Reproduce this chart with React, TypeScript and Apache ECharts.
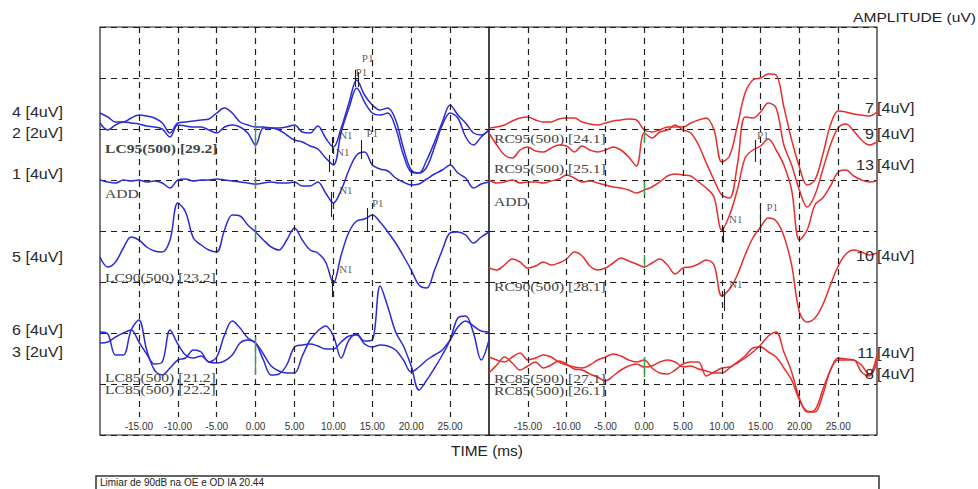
import React, { useEffect, useRef } from "react";
import * as echarts from "echarts";

// Time axis (ms), shared by every trace
const TIME_MS = [-20,-19,-18,-17,-16,-15,-14,-13,-12,-11,-10,-9,-8,-7,-6,-5,-4,-3,-2,-1,0,1,2,3,4,5,6,7,8,9,10,11,12,13,14,15,16,17,18,19,20,21,22,23,24,25,26,27,28,29,30];
const X_TICKS = [-15, -10, -5, 0, 5, 10, 15, 20, 25];

// Trace values: vertical position read downward from the top of the panel,
// in display units (51 units = one grid division of the stacked display).
// Left ear (blue)
const LC95_4 = [86,90,95,95,91,88,89,91,96,106, 96,95,94,93,92,86,81,86,95,98, 100,100,101,101,100,98,105,106,99,111, 120,101,76,53,68,78,83,81,93,121, 143,146,133,115,95,78,88,96,106,108,103];
const LC95_2 = [96,103,98,95,96,97,99,100,102,110, 98,99,100,100,103,106,100,98,100,106, 118,101,101,103,108,113,115,119,122,131, 138,105,81,61,75,86,88,86,101,128, 145,146,140,120,98,86,91,110,118,110,103];
const L_ADD_1 = [153,155,156,153,154,153,155,154,156,161, 153,152,154,153,153,152,153,154,155,156, 157,156,155,156,156,155,159,159,155,166, 176,163,143,128,125,138,142,144,151,155, 158,157,152,147,143,138,146,151,161,157,155];
const LC90_5 = [230,240,235,221,210,213,220,224,225,213, 176,185,211,218,223,225,203,188,189,198, 205,213,220,223,213,201,213,223,226,235, 256,228,205,194,192,188,195,205,216,229, 243,258,261,243,223,206,205,208,216,210,205];
const LC85_6 = [316,315,310,306,303,315,327,337,335,303, 317,328,331,329,335,336,334,328,316,313, 316,327,339,344,346,346,329,313,304,299, 309,331,313,307,314,313,259,280,305,319, 339,363,353,341,328,313,291,289,306,333,313];
const LC85_3 = [305,307,328,328,303,293,323,343,348,341, 333,331,323,325,335,330,308,294,301,311, 316,333,348,347,338,320,318,317,319,322, 322,315,309,308,317,320,318,319,323,333, 345,340,333,328,323,313,300,294,299,304,305];
// Right ear (red)
const RC95_7 = [101,100,98,94,91,90,93,95,95,92, 91,91,95,97,98,96,94,93,92,93, 103,105,103,100,100,100,96,93,91,103, 135,129,99,66,53,51,47,48,80,113, 140,158,153,128,98,84,85,87,88,89,85];
const RC95_9 = [106,118,128,131,123,120,124,125,121,118, 119,125,119,123,125,123,120,123,130,139, 106,111,105,103,98,103,106,118,136,153, 168,171,138,90,91,85,76,81,118,138, 163,180,168,143,118,101,97,104,113,118,115];
const R_ADD_13 = [153,156,155,153,156,155,155,156,154,152, 148,151,155,154,156,158,160,161,163,166, 163,160,155,149,147,148,149,155,161,170, 203,188,163,131,123,119,112,123,138,163, 213,203,178,171,159,145,143,149,153,155,154];
const RC90_10 = [241,243,238,232,235,241,239,235,238,236, 232,225,229,239,243,241,236,231,234,237, 240,236,232,238,247,241,240,237,233,238, 269,262,248,228,211,200,191,194,209,238, 285,295,291,278,258,239,227,223,225,228,226];
const RC85_11 = [330,333,335,330,326,333,331,328,330,335, 338,340,341,338,333,330,327,329,333,335, 333,341,346,347,343,337,335,335,349,345, 341,340,336,331,325,318,309,305,325,345, 371,385,383,363,343,331,332,333,338,348,328];
const RC85_8 = [346,338,330,336,343,339,335,341,338,334, 337,342,343,347,350,354,349,343,339,337, 340,339,335,333,335,340,339,342,344,346, 346,341,335,329,321,320,325,330,341,353, 373,384,385,368,343,333,333,333,345,349,335];

// Stimulus markers at 0 ms: [from, to] vertical positions
const LEFT_STIM = [[95, 122], [150, 162], [198, 213], [310, 348]];
const RIGHT_STIM = [[105, 116], [155, 168], [228, 241], [330, 350]];

// Peak markers: [time, from, to]
const LEFT_PEAK_TICKS = [[12.8, 43, 60], [13.2, 45, 60], [9.9, 110, 126], [9.5, 128, 145], [13.6, 113, 132], [9.7, 165, 190], [14.4, 181, 205], [9.9, 248, 270]];
const RIGHT_PEAK_TICKS = [[14.3, 113, 135], [10.2, 200, 216], [14.9, 178, 206], [10.3, 262, 284]];
// Peak labels: [text, time, position]
const LEFT_PEAK_LABELS: [string, number, number][] = [["P1", 14.4, 31], ["P1", 13.6, 45], ["N1", 11.6, 108], ["N1", 11.2, 125], ["P1", 15.0, 106], ["N1", 11.6, 163], ["P1", 15.7, 176], ["N1", 11.6, 242]];
const RIGHT_PEAK_LABELS: [string, number, number][] = [["P1", 15.3, 108], ["N1", 11.8, 192], ["P1", 16.5, 180], ["N1", 11.8, 257]];

const LEFT_TRACES = [LC95_4, LC95_2, L_ADD_1, LC90_5, LC85_6, LC85_3];
const RIGHT_TRACES = [RC95_7, RC95_9, R_ADD_13, RC90_10, RC85_11, RC85_8];

const LEFT_CHANNELS: [string, number][] = [["4 [4uV]", 112], ["2 [2uV]", 133], ["1 [4uV]", 174], ["5 [4uV]", 257], ["6 [4uV]", 330], ["3 [2uV]", 352]];
const RIGHT_CHANNELS: [string, number][] = [["7", 108], ["9", 134], ["13", 165], ["10", 256], ["11", 353], ["8", 374]];
const LEFT_NAMES: [string, number, boolean][] = [["LC95(500) [29.2]", 148, true], ["ADD", 193, false], ["LC90(500) [23.2]", 277, false], ["LC85(500) [21.2]", 377, false], ["LC85(500) [22.2]", 389, false]];
const RIGHT_NAMES: [string, number, boolean][] = [["RC95(500) [24.1]", 138, false], ["RC95(500) [25.1]", 168, false], ["ADD", 201, false], ["RC90(500) [28.1]", 286, false], ["RC85(500) [27.1]", 378, false], ["RC85(500) [26.1]", 390, false]];

const BLUE = "#2b2bd9";
const RED = "#e62e2e";
const DASH = { type: [6, 5] as any, color: "#1e1e1e", width: 1.2 };

function buildOption() {
  const grids = [
    { left: 100, top: 27, width: 389, height: 408 },
    { left: 489, top: 27, width: 388, height: 408 },
  ].map((g) => ({ ...g, show: true, borderColor: "#222", borderWidth: 1.2, backgroundColor: "transparent" }));

  const xAxes = [0, 1].map((i) => ({
    type: "value", gridIndex: i, min: -20, max: 30, interval: 5,
    axisLine: { show: false }, axisTick: { show: false }, splitLine: { show: false },
    axisLabel: {
      inside: true, margin: 4, showMinLabel: false, showMaxLabel: false,
      formatter: (v: number) => v.toFixed(2), fontSize: 10, color: "#333", fontFamily: "Liberation Sans",
    },
  }));
  const yAxes = [0, 1].map((i) => ({
    type: "value", gridIndex: i, min: 0, max: 408, interval: 51, inverse: true,
    axisLine: { show: false }, axisTick: { show: false }, axisLabel: { show: false },
    splitLine: { show: true, lineStyle: DASH },
  }));

  const series: any[] = [];
  const panels = [
    { traces: LEFT_TRACES, color: BLUE, stim: LEFT_STIM, ticks: LEFT_PEAK_TICKS, labels: LEFT_PEAK_LABELS },
    { traces: RIGHT_TRACES, color: RED, stim: RIGHT_STIM, ticks: RIGHT_PEAK_TICKS, labels: RIGHT_PEAK_LABELS },
  ];
  panels.forEach((p, i) => {
    p.traces.forEach((arr, k) => {
      const s: any = {
        type: "line", xAxisIndex: i, yAxisIndex: i, silent: true,
        symbol: "none", showSymbol: false, smooth: 0.35,
        data: TIME_MS.map((t, j) => [t, arr[j]]),
        lineStyle: { color: p.color, width: 1.5 },
        z: 3,
      };
      if (k === 0) {
        const lines: any[] = [];
        X_TICKS.forEach((t) => lines.push([{ coord: [t, 0], lineStyle: DASH }, { coord: [t, 390] }]));
        p.stim.forEach(([a, b]) => lines.push([{ coord: [0, a], lineStyle: { type: "solid", color: "#3aa04a", width: 1.4 } }, { coord: [0, b] }]));
        p.ticks.forEach(([t, a, b]) => lines.push([{ coord: [t, a], lineStyle: { type: "solid", color: "#222", width: 1.1 } }, { coord: [t, b] }]));
        s.markLine = { silent: true, symbol: ["none", "none"], label: { show: false }, animation: false, data: lines };
      }
      series.push(s);
    });
    series.push({
      type: "scatter", xAxisIndex: i, yAxisIndex: i, silent: true, symbolSize: 1,
      itemStyle: { color: "rgba(0,0,0,0)" }, z: 5,
      data: p.labels.map(([txt, t, d]) => ({ name: txt, value: [t, d] })),
      label: { show: true, position: "inside", formatter: "{b}", fontFamily: "Liberation Serif", fontSize: 11, color: "#333" },
    });
  });

  const text = (t: string, x: number, y: number, font: string, fill: string, align = "left", sx = 1.15) => ({
    type: "text", x, y, scaleX: sx, silent: true, z: 10,
    style: { text: t, x: 0, y: 0, font, fill, textAlign: align, textVerticalAlign: "middle", align, verticalAlign: "middle" },
  });
  const graphic: any[] = [];
  LEFT_CHANNELS.forEach(([t, y]) => graphic.push(text(t, 12, y, "14px 'Liberation Sans'", "#2a2a2a")));
  RIGHT_CHANNELS.forEach(([t, y]) => {
    graphic.push(text(t, 874, y, "14px 'Liberation Sans'", "#2a2a2a", "right"));
    graphic.push(text("[4uV]", 877, y, "14px 'Liberation Sans'", "#2a2a2a"));
  });
  LEFT_NAMES.forEach(([t, y, b]) => graphic.push(text(t, 105, y, `${b ? "bold " : ""}13px 'Liberation Serif'`, "#444", "left", 1.2)));
  RIGHT_NAMES.forEach(([t, y, b]) => graphic.push(text(t, 494, y, `${b ? "bold " : ""}13px 'Liberation Serif'`, "#444", "left", 1.2)));
  graphic.push(text("AMPLITUDE (uV)", 976, 17, "13px 'Liberation Sans'", "#222", "right", 1.2));
  graphic.push(text("TIME (ms)", 487, 451, "14px 'Liberation Sans'", "#222", "center", 1.1));
  graphic.push({ type: "rect", silent: true, shape: { x: 96, y: 476, width: 783, height: 30 }, style: { fill: "#fff", stroke: "#333", lineWidth: 1.5 } });
  graphic.push(text("Limiar de 90dB na OE e OD IA 20.44", 100, 482, "10px 'Liberation Sans'", "#222", "left", 1.0));

  return {
    animation: false,
    backgroundColor: "#fff",
    grid: grids,
    xAxis: xAxes,
    yAxis: yAxes,
    series,
    graphic,
  };
}

export default function App() {
  const ref = useRef<HTMLDivElement>(null);
  useEffect(() => {
    document.body.style.margin = "0";
    const chart = echarts.init(ref.current!, undefined, { renderer: "svg" });
    chart.setOption(buildOption() as any);
    return () => chart.dispose();
  }, []);
  return <div ref={ref} style={{ width: 978, height: 489 }} />;
}
